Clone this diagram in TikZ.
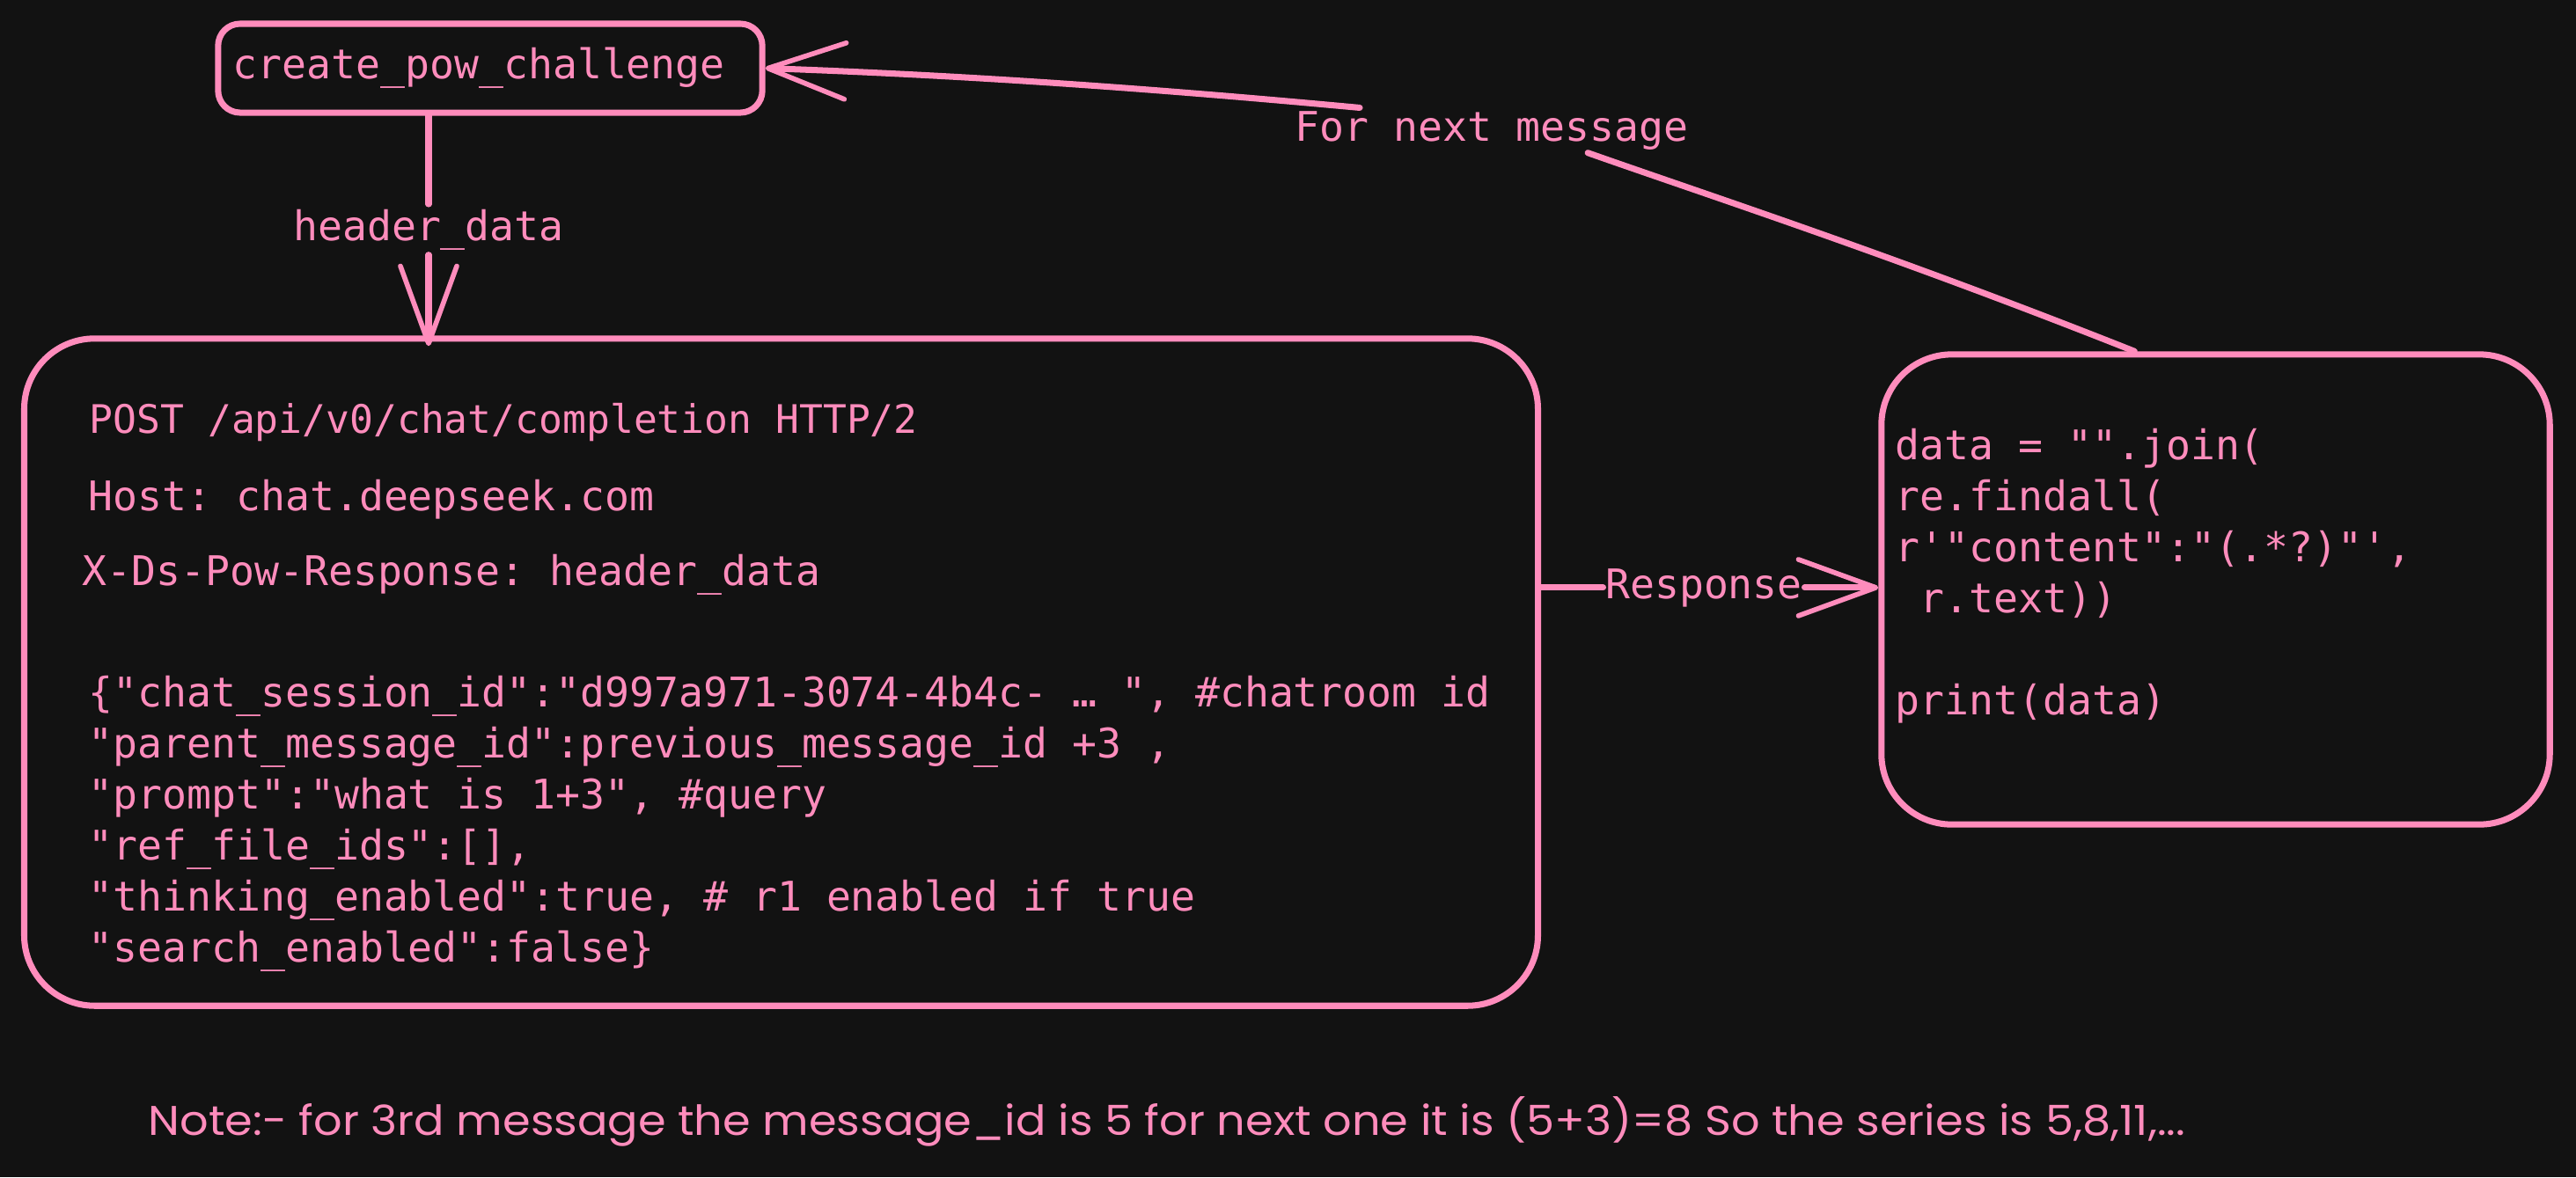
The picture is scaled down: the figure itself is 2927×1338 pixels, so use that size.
\documentclass[tikz,border=0pt]{standalone}
\usepackage{fontspec}
\usepackage{graphicx}
\usetikzlibrary{arrows.meta,calc}
\newfontfamily\codefont{DejaVu Sans Mono}
\newfontfamily\notefont{Poppins}
\definecolor{bgc}{HTML}{121212}
\definecolor{pk}{HTML}{FF8CBC}
\tikzset{
  box/.style={draw=pk, line width=2pt, rounded corners=8mm, inner sep=0pt},
  code/.style={text=pk, font=\codefont\fontsize{13.2}{16.5}\selectfont\frenchspacing, anchor=base west, inner sep=0pt},
  lab/.style={text=pk, font=\codefont\fontsize{13.2}{16.5}\selectfont\frenchspacing, inner sep=0.5mm, anchor=base},
  link/.style={draw=pk, line width=2pt, line cap=round},
  arr/.style={link, -{Straight Barb[round,length=8.8mm,width=6.4mm,line width=1.6pt]}},
}
\begin{document}
\begin{tikzpicture}[x=0.01cm,y=-0.01cm]
\fill[bgc] (0,0) rectangle (2927,1338);
\useasboundingbox (0,0) rectangle (2927,1338);

% boxes
\node[box, rounded corners=2.5mm, text width=5.84cm, align=left, inner xsep=0.17cm,
      minimum height=1.01cm, text=pk,
      font=\codefont\fontsize{13.2}{16.5}\selectfont] (create) at (557,77.5) {create\_pow\_challenge};
\node[box, minimum width=17.19cm, minimum height=7.58cm] (big) at (887.5,764) {};
\node[box, minimum width=7.59cm, minimum height=5.34cm] (rbox) at (2517.5,670) {};

% request text
\node[code, font=\codefont\fontsize{12.7}{16}\selectfont] (l1) at (101,492) {POST /api/v0/chat/completion HTTP/2};
\node[code] (l2) at (100,580) {Host: chat.deepseek.com};
\node[code] (l3) at (93,665) {X-Ds-Pow-Response: header\_data};
\node[code] (l4) at (100,803) {\{"chat\_session\_id":"d997a971-3074-4b4c- … ", \#chatroom id};
\node[code] (l5) at (100,861) {"parent\_message\_id":previous\_message\_id +3 ,};
\node[code] (l6) at (100,919) {"prompt":"what is 1+3", \#query};
\node[code] (l7) at (100,977) {"ref\_file\_ids":[],};
\node[code] (l8) at (100,1035) {"thinking\_enabled":true, \# r1 enabled if true};
\node[code] (l9) at (100,1093) {"search\_enabled":false\}};

% response code
\node[code] (r1) at (2153,522) {data = "".join(};
\node[code] (r2) at (2153,580) {re.findall(};
\node[code] (r3) at (2153,638) {r'"content":"(.*?)"',};
\node[code] (r4) at (2153,696) {\ r.text))};
\node[code] (r5) at (2153,812) {print(data)};

% labels
\node[lab] (hd) at (487,273) {header\_data};
\node[lab, inner sep=0.2mm] (resp) at (1936,680) {Response};
\node[lab, inner sep=0.3mm] (lbl) at (1695,160) {For next message};

% connectors
\draw[link] (create.south -| hd) -- (hd);
\draw[arr] (hd) -- ([yshift=-0.12cm]hd |- big.north);
\draw[link] (big.east |- resp.west) -- (resp.west);
\draw[arr] (resp.east) -- (rbox.west |- resp.east);
\coordinate (rtop) at ([xshift=-0.92cm]rbox.north);
\coordinate (lblB) at ($(lbl.south west)!0.74!(lbl.south east)$);
\draw[link] (rtop) .. controls (2150,290) and (1950,225) .. (lblB);
\coordinate (lblA) at ($(lbl.north west)!0.17!(lbl.north east)$);
\draw[arr] (lblA) .. controls (1250,95) and (1050,84) .. (create.east);

% note
\node[text=pk, font=\notefont\fontsize{13.4}{16}\selectfont, anchor=base west, inner sep=0pt] (note) at (168,1290)
  {\resizebox{23.13cm}{\height}{Note:- for 3rd message the message\_id is 5 for next one it is (5+3)=8 So the series is 5,8,11,...}};
\end{tikzpicture}
\end{document}
